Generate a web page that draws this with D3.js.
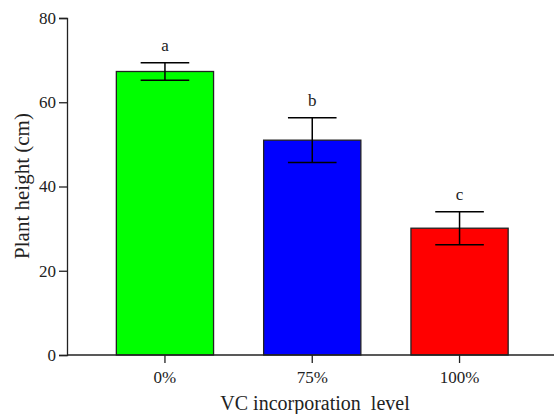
<!DOCTYPE html>
<html>
<head>
<meta charset="utf-8">
<script src="https://cdn.jsdelivr.net/npm/d3@7/dist/d3.min.js"></script>
<style>
  body { margin: 0; padding: 0; background: #fff; }
  svg text { font-family: "Liberation Serif", "Times New Roman", serif; fill: #222; }
</style>
</head>
<body>
<svg id="chart" width="554" height="414"></svg>
<script>
// data
var categories = ["0%", "75%", "100%"];
var means = [67.3, 51.0, 30.1];
var errors = [2.1, 5.3, 3.9];
var letters = ["a", "b", "c"];
var colors = ["#00ff00", "#0000ff", "#ff0000"];
var yTicks = [0, 20, 40, 60, 80];

var serif = "'Liberation Serif', 'Times New Roman', serif";
var svg = d3.select("#chart");

var x = d3.scaleBand()
    .domain(categories)
    .range([67, 557.5])
    .paddingInner(0.34)
    .paddingOuter(0.335);

var y = d3.scaleLinear()
    .domain([0, 80])
    .range([355, 18]);

// bars
svg.selectAll("rect.bar")
    .data(categories)
    .enter().append("rect")
    .attr("class", "bar")
    .attr("x", function(d) { return x(d); })
    .attr("y", function(d, i) { return y(means[i]); })
    .attr("width", x.bandwidth())
    .attr("height", function(d, i) { return y(0) - y(means[i]); })
    .attr("fill", function(d, i) { return colors[i]; })
    .attr("stroke", "#222")
    .attr("stroke-width", 1.3);

// error bars + significance letters
var capHalf = x.bandwidth() / 4;
categories.forEach(function(c, i) {
  var cx = x(c) + x.bandwidth() / 2;
  var g = svg.append("g").attr("stroke", "#000").attr("stroke-width", 1.5);
  g.append("line")
    .attr("x1", cx).attr("x2", cx)
    .attr("y1", y(means[i] + errors[i])).attr("y2", y(means[i] - errors[i]));
  [means[i] + errors[i], means[i] - errors[i]].forEach(function(v) {
    g.append("line")
      .attr("x1", cx - capHalf).attr("x2", cx + capHalf)
      .attr("y1", y(v)).attr("y2", y(v));
  });
  svg.append("text")
    .attr("x", cx)
    .attr("y", y(means[i] + errors[i]) - 12)
    .attr("text-anchor", "middle")
    .style("font-family", serif)
    .style("font-size", "17px")
    .text(letters[i]);
});

// axes
var yAxis = svg.append("g")
    .attr("transform", "translate(67,0)")
    .call(d3.axisLeft(y).tickValues(yTicks).tickSize(8).tickPadding(3));

var xAxis = svg.append("g")
    .attr("transform", "translate(0,355)")
    .call(d3.axisBottom(x).tickSize(8).tickPadding(8));

xAxis.select(".domain").attr("d", "M67,0H554");

[yAxis, xAxis].forEach(function(a) {
  a.attr("font-family", null).attr("font-size", null);
  a.selectAll("path, line").attr("stroke", "#222").attr("stroke-width", 1.3);
  a.selectAll("text")
    .style("font-family", serif)
    .style("font-size", "17px")
    .attr("fill", "#222");
});

// axis titles
svg.append("text")
    .attr("transform", "translate(29,186) rotate(-90)")
    .attr("text-anchor", "middle")
    .style("font-family", serif)
    .style("font-size", "21px")
    .text("Plant height (cm)");

svg.append("text")
    .attr("x", 315)
    .attr("y", 410)
    .attr("text-anchor", "middle")
    .style("font-family", serif)
    .style("font-size", "20px")
    .style("white-space", "pre")
    .text("VC incorporation  level");
</script>
</body>
</html>
